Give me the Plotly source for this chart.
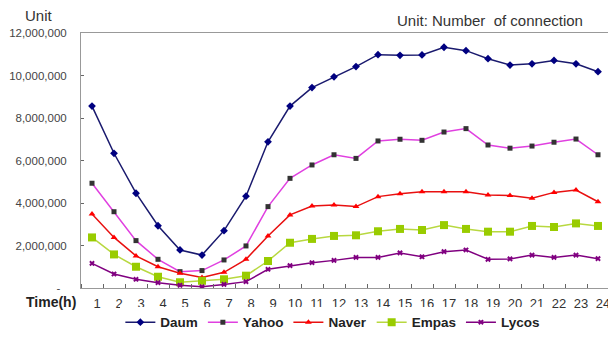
import plotly.graph_objects as go

hours = list(range(1, 25))
hour_labels = [str(h) for h in hours]

daum = [8.56e6, 6.34e6, 4.46e6, 2.93e6, 1.79e6, 1.55e6, 2.70e6, 4.32e6, 6.88e6, 8.56e6, 9.43e6, 9.94e6,
        10.42e6, 10.98e6, 10.95e6, 10.97e6, 11.33e6, 11.17e6, 10.79e6, 10.49e6, 10.55e6, 10.71e6, 10.55e6, 10.18e6]
yahoo = [4.93e6, 3.59e6, 2.23e6, 1.35e6, 0.77e6, 0.82e6, 1.32e6, 1.98e6, 3.83e6, 5.16e6, 5.79e6, 6.27e6,
         6.10e6, 6.92e6, 7.00e6, 6.95e6, 7.34e6, 7.50e6, 6.73e6, 6.58e6, 6.68e6, 6.86e6, 7.01e6, 6.27e6]
naver = [3.48e6, 2.38e6, 1.51e6, 1.00e6, 0.69e6, 0.49e6, 0.74e6, 1.35e6, 2.45e6, 3.44e6, 3.86e6, 3.91e6,
         3.83e6, 4.30e6, 4.44e6, 4.53e6, 4.53e6, 4.53e6, 4.38e6, 4.35e6, 4.22e6, 4.50e6, 4.61e6, 4.06e6]
empas = [2.38e6, 1.58e6, 1.00e6, 0.53e6, 0.27e6, 0.34e6, 0.41e6, 0.58e6, 1.27e6, 2.13e6, 2.31e6, 2.45e6,
         2.48e6, 2.67e6, 2.78e6, 2.73e6, 2.96e6, 2.78e6, 2.65e6, 2.65e6, 2.92e6, 2.87e6, 3.04e6, 2.92e6]
lycos = [1.16e6, 0.66e6, 0.41e6, 0.25e6, 0.13e6, 0.06e6, 0.17e6, 0.30e6, 0.88e6, 1.05e6, 1.19e6, 1.30e6,
         1.44e6, 1.44e6, 1.65e6, 1.47e6, 1.71e6, 1.79e6, 1.35e6, 1.37e6, 1.55e6, 1.44e6, 1.55e6, 1.38e6]

y_tickvals = [0, 2e6, 4e6, 6e6, 8e6, 10e6, 12e6]
y_ticktext = ["-  ", "2,000,000", "4,000,000", "6,000,000", "8,000,000", "10,000,000", "12,000,000"]

series = [
    ("Daum", daum, "#1a1a6e", "diamond", 6, "#000080"),
    ("Yahoo", yahoo, "#e040e0", "square", 5, "#333333"),
    ("Naver", naver, "#e81010", "triangle-up", 6, "#ff0000"),
    ("Empas", empas, "#b8d840", "square", 8, "#99cc00"),
    ("Lycos", lycos, "#800080", "x", 5, "#800080"),
]

fig = go.Figure()
for name, vals, lc, sym, sz, mc in series:
    fig.add_trace(go.Scatter(
        x=hours, y=vals, name=name, mode="lines+markers",
        line=dict(color=lc, width=1.5),
        marker=dict(symbol=sym, size=sz, color=mc),
    ))

fig.update_layout(
    width=616, height=342,
    margin=dict(l=73, r=15, t=25, b=62),
    paper_bgcolor="white", plot_bgcolor="white",
    font=dict(family="Liberation Sans, Arial, sans-serif", size=12, color="#333333"),
    showlegend=True,
    legend=dict(orientation="h", x=0.477, xanchor="center", y=-0.135, yanchor="middle",
                font=dict(size=13.5, color="#222222", weight="bold"), itemwidth=30, tracegroupgap=0),
    annotations=[
        dict(text="Unit", xref="paper", yref="paper", x=-0.08, y=1.07, xanchor="center",
             yanchor="middle", showarrow=False, font=dict(size=15, color="#333333")),
        dict(text="Unit: Number  of connection", xref="paper", yref="paper", x=0.955, y=1.05,
             xanchor="right", yanchor="middle", showarrow=False, font=dict(size=15, color="#333333")),
        dict(text="<b>Time(h)</b>", xref="paper", yref="paper", x=-0.006, y=-0.053,
             xanchor="right", yanchor="middle", showarrow=False, font=dict(size=14, color="#222222")),
    ],
)
fig.update_xaxes(
    range=[0.5, 24.5], tickvals=hours, ticktext=hour_labels, ticks="", automargin=False,
    showgrid=False, zeroline=False, showline=True, linecolor="#999999", linewidth=1, mirror=True,
    tickfont=dict(size=13, color="#333333"), ticklabelshift=5, ticklabelstandoff=3,
    minor=dict(tick0=0.5, dtick=1, ticks="inside", ticklen=4, tickcolor="#666666", showgrid=False),
)
fig.update_yaxes(
    range=[0, 12e6], tickvals=y_tickvals, ticktext=y_ticktext, ticks="inside", ticklen=3, automargin=False,
    tickcolor="#666666", showgrid=False, zeroline=False, showline=True, linecolor="#999999",
    linewidth=1, mirror=True, tickfont=dict(size=11.5, color="#444444"), ticklabelstandoff=11,
)

fig.write_html("out.html")
